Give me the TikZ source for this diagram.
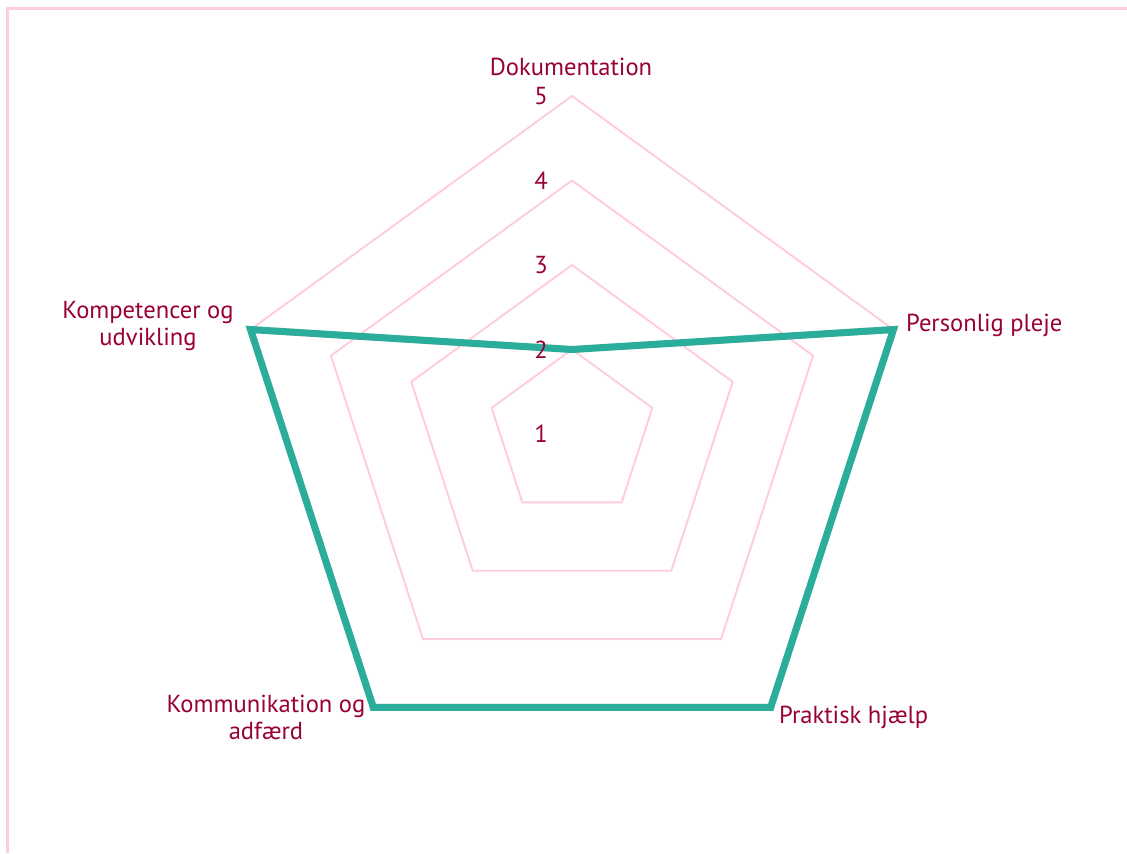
\documentclass[tikz,border=0pt]{standalone}
\usepackage{fontspec}
\setmainfont{PT Sans}
\usepackage{xcolor}
\definecolor{gridpink}{RGB}{255, 204, 221}
\definecolor{labelred}{RGB}{153, 0, 51}
\definecolor{dataTeal}{RGB}{43, 173, 155}
\usetikzlibrary{calc, positioning}

\tikzset{
  gridline/.style={gridpink, line width=1.1pt},
  axislabel/.style={font=\fontsize{14}{15.3}\selectfont, text=labelred, align=center, inner sep=1pt},
  levellabel/.style={font=\fontsize{14}{14}\selectfont, text=labelred, inner sep=0pt}
}

\begin{document}
\begin{tikzpicture}[x=0.02cm, y=0.02cm]
      \useasboundingbox (0,0) rectangle (1127,853);
      % Frame
      \draw[gridpink, line width=1.4pt] (7.5,0) -- (7.5,844.5) -- (1127,844.5);
      \coordinate (c) at (572,419);
      % Grid pentagons
      \begin{scope}[shift={(c)}]
        \foreach \k in {1,...,4}{
          \draw[gridline] (90:\k*84.5) -- (162:\k*84.5) -- (234:\k*84.5)
            -- (306:\k*84.5) -- (18:\k*84.5) -- cycle;
        }
        % Data points
        \coordinate (d1) at (90:84.5);
        \coordinate (d2) at (18:338);
        \coordinate (d3) at (306:338);
        \coordinate (d4) at (234:338);
        \coordinate (d5) at (162:338);
      \end{scope}
      % Shadow and data line
      \draw[black!35, opacity=0.35, line width=4pt, line join=miter, shift={(1,-3)}]
        (d1) -- (d2) -- (d3) -- (d4) -- (d5) -- cycle;
      \draw[dataTeal, line width=4pt, line join=miter]
        (d1) -- (d2) -- (d3) -- (d4) -- (d5) -- cycle;
      % Level labels
      \foreach \v/\k in {1/0, 2/1, 3/2, 4/3, 5/4}{
        \node[levellabel] (lev\v) at (541, 419+\k*84.5) {\v};
      }
      % Axis labels
      \node[axislabel] (doku) at (571,786) {Dokumentation};
      \node[axislabel, anchor=west] (pleje) at (904,528) {Personlig pleje};
      \node[axislabel, anchor=west] (hjaelp) at (777,136) {Praktisk hjælp};
      \node[axislabel] (komm) at (266,136) {Kommunikation og\\adfærd};
      \node[axislabel] (komp) at (148,527) {Kompetencer og\\udvikling};
    \end{tikzpicture}
\end{document}
